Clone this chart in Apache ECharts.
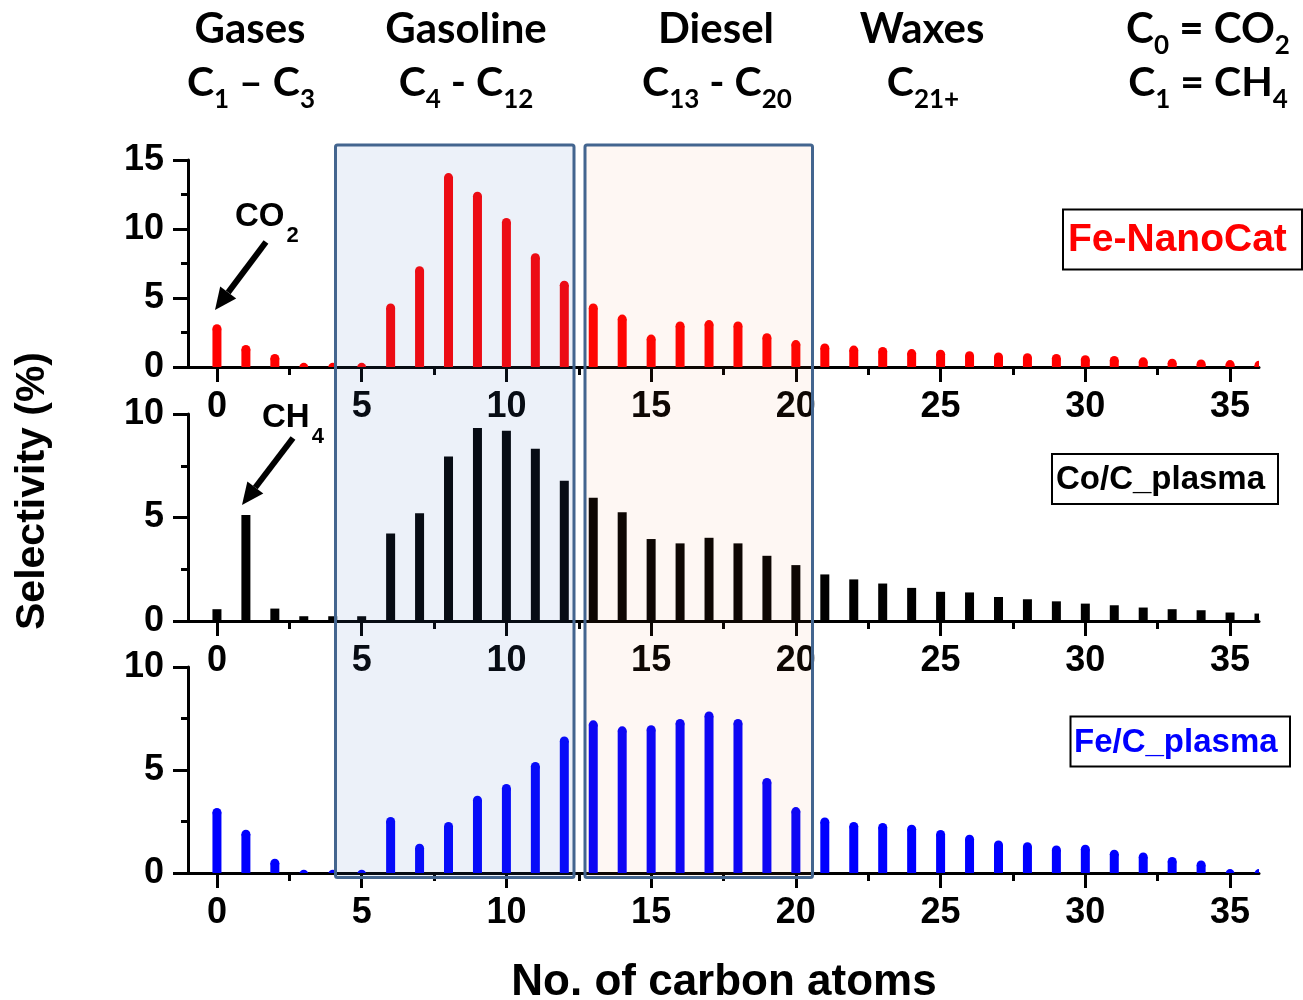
<!DOCTYPE html>
<html>
<head>
<meta charset="utf-8">
<script src="https://cdn.jsdelivr.net/npm/echarts@6/dist/echarts.min.js"></script>
<style>
  html, body { margin: 0; padding: 0; background: #fff; }
  #main { width: 1303px; height: 1000px; }
</style>
</head>
<body>
<div id="main"></div>
<script>
// carbon number on x, selectivity (%) on y
var carbon = [0, 1, 2, 3, 4, 5, 6, 7, 8, 9, 10, 11, 12, 13, 14, 15, 16, 17, 18,
  19, 20, 21, 22, 23, 24, 25, 26, 27, 28, 29, 30, 31, 32, 33, 34, 35, 36];
var feNanoCat = [3.1, 1.6, 0.95, 0.3, 0.3, 0.3, 4.6, 7.3, 14.05, 12.7, 10.8, 8.25, 6.25,
  4.6, 3.8, 2.35, 3.3, 3.4, 3.3, 2.45, 1.95, 1.7, 1.55, 1.45, 1.3, 1.25, 1.15,
  1.05, 1.0, 0.95, 0.85, 0.8, 0.7, 0.6, 0.55, 0.5, 0.45];
var coPlasma = [0.57, 5.12, 0.6, 0.23, 0.23, 0.23, 4.23, 5.2, 7.95, 9.32, 9.19, 8.32, 6.77,
  5.96, 5.25, 3.96, 3.75, 4.02, 3.75, 3.15, 2.7, 2.25, 2.01, 1.81, 1.6, 1.41, 1.38,
  1.16, 1.05, 0.95, 0.84, 0.76, 0.65, 0.57, 0.52, 0.41, 0.36];
var feCPlasma = [3.16, 2.1, 0.69, 0.16, 0.16, 0.16, 2.72, 1.42, 2.48, 3.75, 4.32, 5.39, 6.63,
  7.41, 7.12, 7.17, 7.48, 7.84, 7.48, 4.61, 3.2, 2.7, 2.48, 2.43, 2.34, 2.09, 1.86,
  1.58, 1.49, 1.34, 1.37, 1.13, 1.0, 0.78, 0.61, 0.19, 0.19];

var xTicks = [0, 5, 10, 15, 20, 25, 30, 35];
var xMinorTicks = [2.5, 7.5, 12.5, 17.5, 22.5, 27.5, 32.5];
var yMax = [15, 10, 10];
var panelNames = ['Fe-NanoCat', 'Co/C_plasma', 'Fe/C_plasma'];
var barColors = ['#ff0000', '#000000', '#0000ff'];
var roundTop = [true, false, true];

var headRow1 = ['{m|Gases}', '{m|Gasoline}', '{m|Diesel}', '{m|Waxes}', '{m|C}{s|0}{m| = CO}{s|2}'];
var headRow2 = ['{m|C}{s|1}{m| \u2013 C}{s|3}', '{m|C}{s|4}{m| - C}{s|12}', '{m|C}{s|13}{m| - C}{s|20}',
  '{m|C}{s|21+}', '{m|C}{s|1}{m| = CH}{s|4}'];

var AX_FONT = '"Liberation Sans", Arial, sans-serif';
var HEAD_FONT = 'Lato, "Open Sans", sans-serif';
var BAR_W = 9;

var gridTops = [160, 414, 667];
var gridHeights = [207, 207, 206];
var headX1 = [250, 466, 716, 922, 1208];
var headX2 = [251, 466, 717, 923, 1208];

var myChart = echarts.init(document.getElementById('main'));

function stem(round) {
  return function (params, api) {
    var base = api.coord([api.value(0), 0]);
    var top = api.coord([api.value(0), api.value(1)]);
    var color = api.visual('color');
    var r = BAR_W / 2;
    if (!round) {
      return {
        type: 'rect',
        shape: { x: base[0] - r, y: top[1], width: BAR_W, height: base[1] - top[1] },
        style: { fill: color }
      };
    }
    var cy = top[1] + r;
    return {
      type: 'group',
      children: [{
        type: 'rect',
        shape: { x: base[0] - r, y: Math.min(cy, base[1]), width: BAR_W, height: Math.max(0, base[1] - cy) },
        style: { fill: color }
      }, {
        type: 'circle',
        shape: { cx: base[0], cy: cy, r: r },
        style: { fill: color }
      }]
    };
  };
}

function xMain(i) {
  return {
    type: 'value', gridIndex: i, position: 'bottom', min: -1, max: 36,
    axisLine: { show: true, onZero: false, lineStyle: { color: '#000', width: 3 } },
    axisTick: { show: true, customValues: xTicks, length: 15, lineStyle: { color: '#000', width: 3 } },
    axisLabel: {
      show: true, customValues: xTicks, margin: 22, color: '#000',
      fontSize: 36, fontWeight: 'bold', fontFamily: AX_FONT
    },
    splitLine: { show: false }
  };
}

function xMinor(i) {
  return {
    type: 'value', gridIndex: i, position: 'bottom', offset: 0, min: -1, max: 36,
    axisLine: { show: false },
    axisTick: { show: true, customValues: xMinorTicks, length: 8, lineStyle: { color: '#000', width: 3 } },
    axisLabel: { show: false },
    splitLine: { show: false }
  };
}

function yAxis(i) {
  return {
    type: 'value', gridIndex: i, min: 0, max: yMax[i], interval: 5,
    axisLine: { show: true, onZero: false, lineStyle: { color: '#000', width: 3 } },
    axisTick: { show: true, length: 15, lineStyle: { color: '#000', width: 3 } },
    minorTick: { show: true, splitNumber: 2, length: 7, lineStyle: { color: '#000', width: 3 } },
    axisLabel: { margin: 24, color: '#000', fontSize: 36, fontWeight: 'bold', fontFamily: AX_FONT },
    splitLine: { show: false },
    minorSplitLine: { show: false }
  };
}

var headRich = {
  m: { fontSize: 42, fontWeight: 'bold', fontFamily: HEAD_FONT, fill: '#000', lineHeight: 46, verticalAlign: 'top' },
  s: { fontSize: 26, fontWeight: 'bold', fontFamily: HEAD_FONT, fill: '#000', lineHeight: 26, verticalAlign: 'top', padding: [25, 0, 0, 0] }
};
var head2Rich = {
  m: { fontSize: 41, fontWeight: 'bold', fontFamily: HEAD_FONT, fill: '#000', lineHeight: 46, verticalAlign: 'top' },
  s: { fontSize: 26, fontWeight: 'bold', fontFamily: HEAD_FONT, fill: '#000', lineHeight: 26, verticalAlign: 'top', padding: [25, 0, 0, 0] }
};
var noteRich = {
  m: { fontSize: 33, fontWeight: 'bold', fontFamily: AX_FONT, fill: '#000', lineHeight: 36, verticalAlign: 'top' },
  s: { fontSize: 22, fontWeight: 'bold', fontFamily: AX_FONT, fill: '#000', lineHeight: 22, verticalAlign: 'top', padding: [25, 0, 0, 2] }
};

function arrow(tail, tip) {
  var dx = tip[0] - tail[0], dy = tip[1] - tail[1];
  var len = Math.sqrt(dx * dx + dy * dy);
  var ux = dx / len, uy = dy / len;
  var bx = tip[0] - 22 * ux, by = tip[1] - 22 * uy;
  var nx = -uy * 10, ny = ux * 10;
  return [{
    type: 'line', z: 20,
    shape: { x1: tail[0], y1: tail[1], x2: bx, y2: by },
    style: { stroke: '#000', lineWidth: 6 }
  }, {
    type: 'polygon', z: 20,
    shape: { points: [tip, [bx + nx, by + ny], [bx - nx, by - ny]] },
    style: { fill: '#000' }
  }];
}

var graphics = [];
// shaded fuel ranges (translucent overlay like the original)
graphics.push({ type: 'rect', z: 10, shape: { x: 335.5, y: 145, width: 238.5, height: 732.5 }, style: { fill: 'rgba(68,114,196,0.1)' } });
graphics.push({ type: 'rect', z: 10, shape: { x: 585, y: 145, width: 227.5, height: 732.5 }, style: { fill: 'rgba(237,125,49,0.06)' } });
graphics.push({ type: 'rect', z: 11, shape: { x: 335.5, y: 145, width: 238.5, height: 732.5, r: 2 }, style: { fill: 'none', stroke: '#43658f', lineWidth: 3 } });
graphics.push({ type: 'rect', z: 11, shape: { x: 585, y: 145, width: 227.5, height: 732.5, r: 2 }, style: { fill: 'none', stroke: '#43658f', lineWidth: 3 } });

headRow1.forEach(function (t, i) {
  graphics.push({ type: 'text', x: headX1[i], y: 8, z: 20, style: { text: t, rich: headRich, align: 'center', verticalAlign: 'top' } });
});
headRow2.forEach(function (t, i) {
  graphics.push({ type: 'text', x: headX2[i], y: 62, z: 20, style: { text: t, rich: head2Rich, align: 'center', verticalAlign: 'top' } });
});

graphics.push({ type: 'text', x: 235, y: 200, z: 20, style: { text: '{m|CO}{s|2}', rich: noteRich, align: 'left', verticalAlign: 'top' } });
graphics.push({ type: 'text', x: 262, y: 401, z: 20, style: { text: '{m|CH}{s|4}', rich: noteRich, align: 'left', verticalAlign: 'top' } });
graphics = graphics.concat(arrow([266, 242], [215, 310]));
graphics = graphics.concat(arrow([293, 438], [242, 505]));

// series name boxes
var nameBoxes = [
  { x: 1063, y: 209.5, w: 239, h: 60, tx: 1068, size: 39 },
  { x: 1052, y: 454, w: 226, h: 50, tx: 1056, size: 33 },
  { x: 1070.5, y: 716.5, w: 219.5, h: 50, tx: 1074, size: 33 }
];
nameBoxes.forEach(function (b, i) {
  graphics.push({ type: 'rect', z: 20, shape: { x: b.x, y: b.y, width: b.w, height: b.h }, style: { fill: '#fff', stroke: '#000', lineWidth: 2 } });
  graphics.push({
    type: 'text', z: 21, x: b.tx, y: b.y + b.h / 2 + 1,
    style: { text: panelNames[i], fill: barColors[i], font: 'bold ' + b.size + 'px ' + AX_FONT, align: 'left', verticalAlign: 'middle' }
  });
});

graphics.push({
  type: 'text', z: 20, x: 33, y: 491, rotation: Math.PI / 2,
  style: { text: 'Selectivity (%)', fill: '#000', font: 'bold 41px ' + AX_FONT, align: 'center', verticalAlign: 'middle' }
});
graphics.push({
  type: 'text', z: 20, x: 724, y: 983,
  style: { text: 'No. of carbon atoms', fill: '#000', font: 'bold 44px ' + AX_FONT, align: 'center', verticalAlign: 'middle' }
});

var option = {
  animation: false,
  backgroundColor: '#fff',
  grid: gridTops.map(function (t, i) {
    return { left: 188, width: 1071, top: t, height: gridHeights[i], containLabel: false, outerBoundsMode: 'none' };
  }),
  xAxis: [xMain(0), xMinor(0), xMain(1), xMinor(1), xMain(2), xMinor(2)],
  yAxis: [yAxis(0), yAxis(1), yAxis(2)],
  series: [feNanoCat, coPlasma, feCPlasma].map(function (vals, i) {
    return {
      type: 'custom',
      name: panelNames[i],
      xAxisIndex: 2 * i,
      yAxisIndex: i,
      clip: true,
      itemStyle: { color: barColors[i] },
      renderItem: stem(roundTop[i]),
      data: carbon.map(function (c, k) { return [c, vals[k]]; })
    };
  }),
  graphic: graphics
};
myChart.setOption(option);
</script>
</body>
</html>
